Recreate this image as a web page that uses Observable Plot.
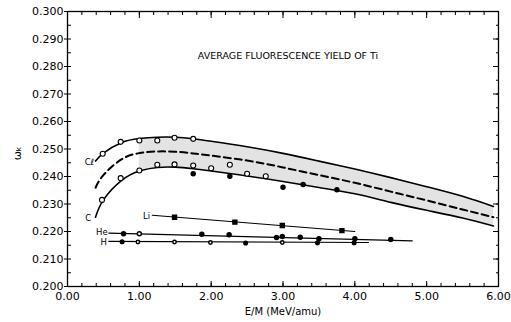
<!DOCTYPE html>
<html><head><meta charset="utf-8">
<script src="https://cdn.jsdelivr.net/npm/d3@7"></script>
<script src="https://cdn.jsdelivr.net/npm/@observablehq/plot@0.6"></script>
<style>body{margin:0;background:#fff;} svg{display:block;}</style>
</head><body><div id="chart"></div>
<script>
// Smooth curves
const curveX   = [0.39, 0.5, 0.75, 1.0, 1.25, 1.5, 1.75, 2.0, 2.5, 3.0, 3.5, 4.0, 4.5, 5.0, 5.5, 5.93];
const upperY   = [0.2456, 0.2485, 0.2523, 0.2538, 0.2543, 0.2543, 0.2537, 0.2528, 0.2508, 0.2484, 0.2456, 0.2427, 0.2396, 0.2363, 0.2328, 0.2291];
const dashY    = [0.2359, 0.2405, 0.2462, 0.2485, 0.2491, 0.2490, 0.2484, 0.2476, 0.2458, 0.2433, 0.2405, 0.2377, 0.2345, 0.2313, 0.2280, 0.2252];
const lowerY   = [0.2252, 0.2315, 0.2385, 0.2420, 0.2433, 0.2434, 0.2428, 0.2420, 0.2402, 0.2382, 0.2360, 0.2337, 0.2306, 0.2277, 0.2249, 0.2220];

// C data points
const clOpenX = [0.49, 0.74, 1.0, 1.25, 1.49, 1.75];
const clOpenY = [0.2483, 0.2526, 0.2531, 0.2531, 0.2541, 0.2537];
const cOpenX  = [0.48, 0.74, 1.0, 1.25, 1.49, 1.75, 2.0, 2.26, 2.50, 2.76];
const cOpenY  = [0.2315, 0.2394, 0.2422, 0.2443, 0.2444, 0.2440, 0.2430, 0.2443, 0.2410, 0.2401];
const cFillX  = [1.75, 2.26, 3.0, 3.28, 3.75];
const cFillY  = [0.2410, 0.2401, 0.2361, 0.2371, 0.2352];

// Li
const liLineX = [1.18, 4.0];
const liLineY = [0.2259, 0.2200];
const liX = [1.49, 2.33, 2.99, 3.82];
const liY = [0.2252, 0.2234, 0.2222, 0.2203];

// He
const heLineX = [0.575, 4.8];
const heLineY = [0.2194, 0.2166];
const heFillX = [0.78, 1.87, 2.25, 2.91, 2.99, 3.24, 3.5, 4.0, 4.5];
const heFillY = [0.2192, 0.2190, 0.2188, 0.2178, 0.2182, 0.2179, 0.2174, 0.2174, 0.2171];
const heOpenX = [1.0];
const heOpenY = [0.2192];

// H
const hLineX = [0.575, 4.19];
const hLineY = [0.2164, 0.2160];
const hOpenX = [0.98, 1.49, 1.99, 2.99];
const hOpenY = [0.2162, 0.2162, 0.2160, 0.2160];
const hFillX = [0.76, 2.48, 3.48, 3.99];
const hFillY = [0.2163, 0.2158, 0.2159, 0.2159];

// Ticks
const xMajor = [0, 1, 2, 3, 4, 5, 6];
const xMinor = d3.range(0, 6.001, 0.2);
const yMajor = [0.200, 0.210, 0.220, 0.230, 0.240, 0.250, 0.260, 0.270, 0.280, 0.290, 0.300];
const yMinor = d3.range(0.200, 0.3001, 0.005);

const title = "AVERAGE FLUORESCENCE YIELD OF Ti";
const xLabel = "E/M (MeV/amu)";
const yLabel = "ωₖ";
const curveLabels = [
  {t: "Cℓ", x: 0.37, y: 0.2452},
  {t: "C",  x: 0.33, y: 0.2248},
  {t: "Li", x: 1.15, y: 0.2256},
  {t: "He", x: 0.56, y: 0.2196},
  {t: "H",  x: 0.55, y: 0.2162}
];

const zip = (xs, ys) => xs.map((x, i) => ({x, y: ys[i]}));
const curves = curveX.map((x, i) => ({x, up: upperY[i], mid: dashY[i], lo: lowerY[i]}));

const chart = Plot.plot({
  width: 511, height: 322,
  marginLeft: 67, marginRight: 13, marginTop: 11, marginBottom: 36,
  style: {fontFamily: "DejaVu Sans", fontSize: "11px", background: "#fff", color: "black"},
  x: {domain: [0, 6]},
  y: {domain: [0.2, 0.3]},
  marks: [
    Plot.areaY(curves, {filter: d => d.x >= 0.9, x: "x", y1: "lo", y2: "up", curve: "natural", fill: "#dcdcdc", fillOpacity: 0.8}),
    Plot.line(curves, {x: "x", y: "up", curve: "natural", stroke: "black", strokeWidth: 1.6}),
    Plot.line(curves, {x: "x", y: "lo", curve: "natural", stroke: "black", strokeWidth: 1.6}),
    Plot.line(curves, {x: "x", y: "mid", curve: "natural", stroke: "black", strokeWidth: 2, strokeDasharray: "7,4"}),
    Plot.line(zip(liLineX, liLineY), {x: "x", y: "y", stroke: "black", strokeWidth: 1.1}),
    Plot.line(zip(heLineX, heLineY), {x: "x", y: "y", stroke: "black", strokeWidth: 1.1}),
    Plot.line(zip(hLineX, hLineY), {x: "x", y: "y", stroke: "black", strokeWidth: 1.1}),
    Plot.dot(zip(clOpenX, clOpenY), {x: "x", y: "y", r: 2.5, fill: "white", stroke: "black", strokeWidth: 1.1}),
    Plot.dot(zip(cOpenX, cOpenY), {x: "x", y: "y", r: 2.5, fill: "white", stroke: "black", strokeWidth: 1.1}),
    Plot.dot(zip(cFillX, cFillY), {x: "x", y: "y", r: 2.0, fill: "black", stroke: "black"}),
    Plot.dot(zip(liX, liY), {x: "x", y: "y", symbol: "square", r: 2.2, fill: "black", stroke: "black"}),
    Plot.dot(zip(heFillX, heFillY), {x: "x", y: "y", r: 2.0, fill: "black", stroke: "black"}),
    Plot.dot(zip(heOpenX, heOpenY), {x: "x", y: "y", r: 2.0, fill: "white", stroke: "black"}),
    Plot.dot(zip(hOpenX, hOpenY), {x: "x", y: "y", r: 1.7, fill: "white", stroke: "black"}),
    Plot.dot(zip(hFillX, hFillY), {x: "x", y: "y", r: 1.8, fill: "black", stroke: "black"}),
    Plot.text(curveLabels, {x: "x", y: "y", text: "t", textAnchor: "end", fontSize: 8.5, fill: "black"}),
    Plot.text([title], {x: 3.07, y: 0.284, text: d => d, fontSize: 9.5, fill: "black"}),
    Plot.frame({stroke: "black", strokeWidth: 1.3}),
    // bottom
    Plot.axisX({anchor: "bottom", ticks: xMinor, tickSize: -3, tickFormat: () => "", label: null}),
    Plot.axisX({anchor: "bottom", ticks: xMajor, tickSize: -5, tickFormat: () => "", label: null}),
    Plot.axisX({anchor: "bottom", ticks: xMajor, tickSize: 0, tickPadding: 6, tickFormat: d3.format(".2f"), label: null, fill: "black"}),
    // top
    Plot.axisX({anchor: "top", ticks: xMinor, tickSize: -3, tickFormat: () => "", label: null}),
    Plot.axisX({anchor: "top", ticks: xMajor, tickSize: -6, tickFormat: () => "", label: null}),
    // left
    Plot.axisY({anchor: "left", ticks: yMinor, tickSize: -4, tickFormat: () => "", label: null}),
    Plot.axisY({anchor: "left", ticks: yMajor, tickSize: 3, tickPadding: 1, tickFormat: d3.format(".3f"), label: null, fill: "black"}),
    // right
    Plot.axisY({anchor: "right", ticks: yMinor, tickSize: -3, tickFormat: () => "", label: null}),
    Plot.axisY({anchor: "right", ticks: yMajor, tickSize: -6, tickFormat: () => "", label: null}),
    Plot.text([xLabel], {frameAnchor: "bottom", dy: 28, text: d => d, fontSize: 10, fill: "black"}),
    Plot.text([yLabel], {x: -0.69, y: 0.2484, text: d => d, rotate: -90, fontSize: 11, fill: "black"})
  ]
});
document.getElementById("chart").appendChild(chart);
</script>
</body></html>
